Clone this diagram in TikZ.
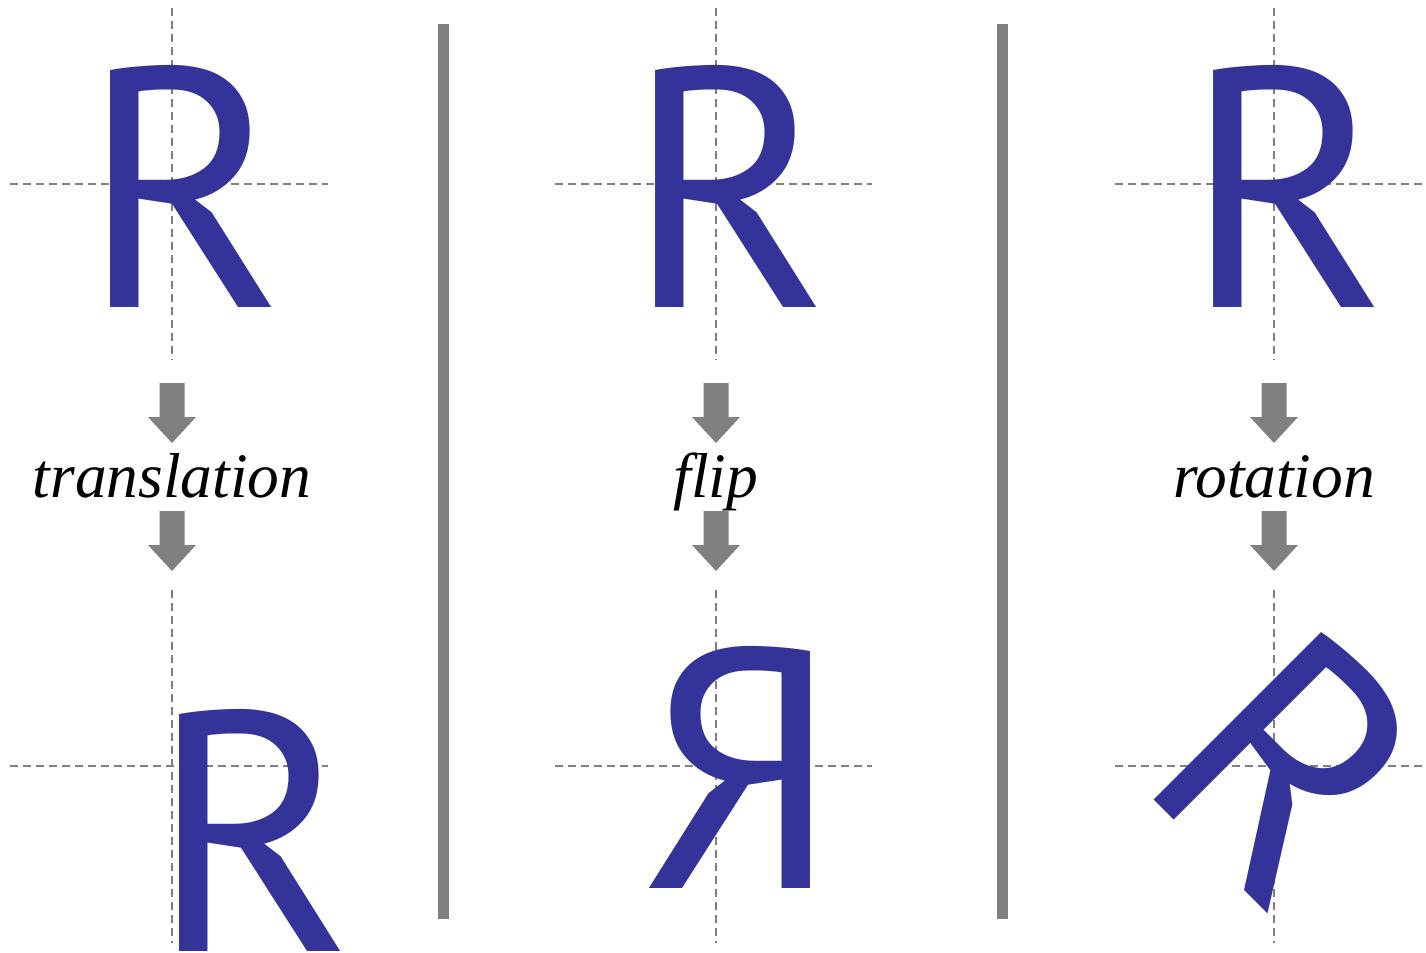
\documentclass[tikz,border=0pt]{standalone}
\usepackage{fontspec}
\setmainfont{Liberation Serif}
\newfontfamily\rfont{PT Sans}
\definecolor{rblue}{RGB}{51,51,153}
\definecolor{gline}{RGB}{128,128,128}
\tikzset{
  guide/.style={draw=gline, line width=1pt, dash pattern=on 4pt off 2.5pt},
  letter/.style={inner sep=0pt, outer sep=0pt, text=rblue, font=\rfont\fontsize{171pt}{171pt}\selectfont, anchor=base west},
  lbl/.style={inner sep=0pt, font=\itshape\fontsize{31.7pt}{31.7pt}\selectfont, anchor=base},
  sepline/.style={draw=gline, line width=5.5pt},
  blockarrow/.pic={\fill[gline] (-12.5,0) -- (12.5,0) -- (12.5,34) -- (24,34) -- (0,60) -- (-24,34) -- (-12.5,34) -- cycle;}
}
\begin{document}
\begin{tikzpicture}[x=0.5pt,y=-0.5pt]
\useasboundingbox (0,0) rectangle (1426,953);
\def\lsb{26}
% separators
\coordinate (s1t) at (443.5,24); \coordinate (s1b) at (443.5,919);
\coordinate (s2t) at (1002.5,24); \coordinate (s2b) at (1002.5,919);
\draw[sepline] (s1t) -- (s1b);
\draw[sepline] (s2t) -- (s2b);
% guides and arrows
\foreach \cx/\hl/\hr in {172/10/328, 716/555/872, 1274/1115/1426}{
  \draw[guide] (\cx,8) -- (\cx,360);
  \draw[guide] (\hl,184) -- (\hr,184);
  \draw[guide] (\cx,590) -- (\cx,943);
  \draw[guide] (\hl,766) -- (\hr,766);
  \pic at (\cx,383) {blockarrow};
  \pic at (\cx,511) {blockarrow};
}
% panel 1: translation
\node[letter] (R1) at (108-\lsb,307) {R};
\node[lbl] (L1) at (172,497) {translation};
\node[letter] (R1b) at (176-\lsb,951) {R};
% panel 2: flip
\node[letter] (R2) at (652-\lsb,307) {R};
\node[lbl] (L2) at (716,497) {flip};
\node[letter, xscale=-1] (R2b) at (813+\lsb,888) {R};
% panel 3: rotation
\node[letter] (R3) at (1210-\lsb,307) {R};
\node[lbl] (L3) at (1274,497) {rotation};
\begin{scope}[shift={(1284,756)}, rotate=-45]
\node[letter, transform shape] (R3b) at (-64-\lsb,123) {R};
\end{scope}
\end{tikzpicture}
\end{document}
